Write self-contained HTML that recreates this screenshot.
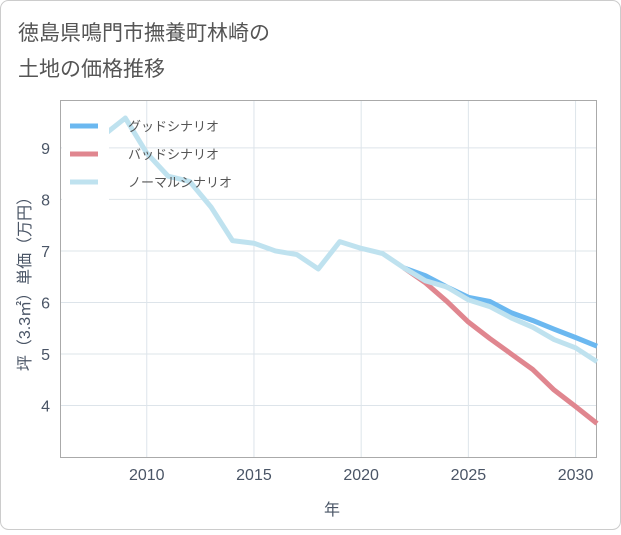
<!DOCTYPE html>
<html><head><meta charset="utf-8"><style>
body{margin:0;background:#fff;}
svg text{font-family:"Liberation Sans","Noto Sans CJK JP",sans-serif;}
</style></head><body>
<svg width="621" height="530" viewBox="0 0 621 530">
<rect x="0.5" y="0.5" width="620" height="529" rx="8" fill="#fff" stroke="#ccc"/>
<text x="18" y="40" font-size="21" fill="#555">徳島県鳴門市撫養町林崎の</text>
<text x="18" y="76" font-size="21" fill="#555">土地の価格推移</text>
<g id="grid"></g>
<rect x="60.5" y="100.5" width="536" height="357" fill="none" stroke="#aaa"/>
<g id="axes"></g>
<g id="lines"></g>
<rect x="62" y="102" width="47" height="104" fill="#fff"/>
<g>
<g><line x1="70" x2="98" y1="126" y2="126" stroke="#6bb8f0" stroke-width="5"/><text x="128" y="131" font-size="13" fill="#555">グッドシナリオ</text></g>
<g><line x1="70" x2="98" y1="154" y2="154" stroke="#e0868f" stroke-width="5"/><text x="128" y="159" font-size="13" fill="#555">バッドシナリオ</text></g>
<g><line x1="70" x2="98" y1="182" y2="182" stroke="#bfe2ef" stroke-width="5"/><text x="128" y="187" font-size="13" fill="#555">ノーマルシナリオ</text></g>
</g>
<text x="332" y="515" font-size="16" fill="#4a5566" text-anchor="middle">年</text>
<text transform="translate(30,280) rotate(-90)" font-size="16" fill="#4a5566" text-anchor="middle">坪（3.3㎡）単価（万円）</text>
</svg>
<script>
const xTicks=[2010,2015,2020,2025,2030];
const yTicks=[4,5,6,7,8,9];
const normalYears=[2008,2009,2010,2011,2012,2013,2014,2015,2016,2017,2018,2019,2020,2021,2022,2023,2024,2025,2026,2027,2028,2029,2030,2031];
const normalValues=[9.25,9.58,8.9,8.45,8.35,7.85,7.2,7.15,7.0,6.93,6.65,7.18,7.05,6.95,6.67,6.42,6.3,6.05,5.92,5.7,5.52,5.28,5.12,4.85];
const goodYears=[2022,2023,2024,2025,2026,2027,2028,2029,2030,2031];
const goodValues=[6.67,6.52,6.3,6.1,6.02,5.8,5.65,5.48,5.32,5.15];
const badYears=[2022,2023,2024,2025,2026,2027,2028,2029,2030,2031];
const badValues=[6.67,6.38,6.02,5.62,5.3,5.0,4.7,4.3,3.98,3.65];
const X0=2006,X1=2031,Y0=3,Y1=9.93;
const px0=61,px1=597,py0=457,py1=100;
const sx=v=>px0+(v-X0)/(X1-X0)*(px1-px0);
const sy=v=>py0-(v-Y0)/(Y1-Y0)*(py0-py1);
const NS='http://www.w3.org/2000/svg';
const grid=document.getElementById('grid'),axes=document.getElementById('axes'),lines=document.getElementById('lines');
function mk(t,a,p){const e=document.createElementNS(NS,t);for(const k in a)e.setAttribute(k,a[k]);p.appendChild(e);return e;}
xTicks.forEach(t=>{
 const g=mk('line',{x1:sx(t),x2:sx(t),y1:py1,y2:py0,stroke:'#dde4ea'},grid);
 
 
 const l=mk('text',{x:sx(t),y:480,'font-size':16,fill:'#4a5566','text-anchor':'middle'},axes);l.textContent=t;
 
 
});
yTicks.forEach(t=>{
 const g=mk('line',{x1:px0,x2:px1,y1:sy(t),y2:sy(t),stroke:'#dde4ea'},grid);
 
 
 const l=mk('text',{x:50,y:sy(t)+6,'font-size':16,fill:'#4a5566','text-anchor':'end'},axes);l.textContent=t;
 
 
});
function series(xs,ys,color,name){
 const p=mk('polyline',{points:xs.map((x,i)=>sx(x)+','+sy(ys[i])).join(' '),fill:'none',stroke:color,'stroke-width':5,'stroke-linejoin':'round'},lines);
 
 
}
series(badYears,badValues,'#e0868f','bad-scenario-line');
series(goodYears,goodValues,'#6bb8f0','good-scenario-line');
series(normalYears,normalValues,'#bfe2ef','normal-scenario-line');
</script>
</body></html>
